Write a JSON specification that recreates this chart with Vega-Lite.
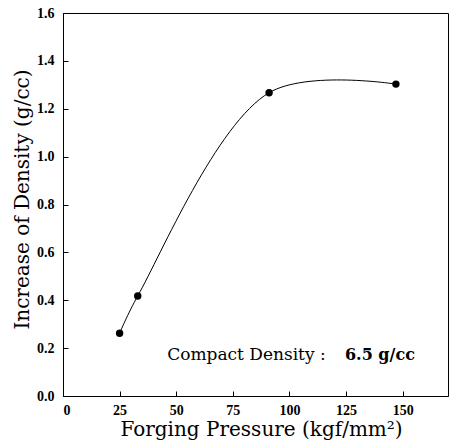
{
  "$schema": "https://vega.github.io/schema/vega-lite/v6.json",
  "width": 385,
  "height": 383,
  "autosize": "none",
  "padding": {"left": 63, "top": 13, "right": 3, "bottom": 48},
  "background": "white",
  "config": {
    "view": {"stroke": "black", "strokeWidth": 1},
    "axis": {
      "domainColor": "black",
      "tickColor": "black",
      "labelColor": "black",
      "titleColor": "black",
      "grid": false,
      "labelFont": "Liberation Serif",
      "labelFontWeight": "bold",
      "labelFontSize": 14,
      "titleFont": "DejaVu Serif",
      "titleFontWeight": "normal",
      "titleFontSize": 20
    }
  },
  "datasets": {
    "density": [
      {"pressure": 25, "increase": 0.262},
      {"pressure": 33, "increase": 0.418},
      {"pressure": 91, "increase": 1.267},
      {"pressure": 147, "increase": 1.303}
    ],
    "noteText": [
      {"pressure": 46, "increase": 0.17, "label": "Compact Density :"}
    ],
    "noteValue": [
      {"pressure": 124.5, "increase": 0.17, "label": "6.5 g/cc"}
    ]
  },
  "encoding": {
    "x": {
      "field": "pressure",
      "type": "quantitative",
      "scale": {"domain": [0, 170], "nice": false, "zero": true},
      "axis": {
        "values": [0, 25, 50, 75, 100, 125, 150],
        "tickSize": -5,
        "labelPadding": 12,
        "title": "Forging Pressure (kgf/mm²)",
        "titleX": 198,
        "titlePadding": 2
      }
    },
    "y": {
      "field": "increase",
      "type": "quantitative",
      "scale": {"domain": [0, 1.6], "nice": false},
      "axis": {
        "values": [0, 0.2, 0.4, 0.6, 0.8, 1.0, 1.2, 1.4, 1.6],
        "format": ".1f",
        "tickSize": -5,
        "labelPadding": 14,
        "title": "Increase of Density (g/cc)",
        "titleY": 186,
        "titlePadding": 4
      }
    }
  },
  "layer": [
    {
      "data": {"name": "density"},
      "mark": {"type": "line", "interpolate": "catmull-rom", "color": "black", "strokeWidth": 1}
    },
    {
      "data": {"name": "density"},
      "mark": {"type": "point", "filled": true, "color": "black", "opacity": 1, "size": 55}
    },
    {
      "data": {"name": "noteText"},
      "mark": {"type": "text", "align": "left", "baseline": "middle", "font": "DejaVu Serif", "fontSize": 17, "color": "black"},
      "encoding": {"text": {"field": "label"}}
    },
    {
      "data": {"name": "noteValue"},
      "mark": {"type": "text", "align": "left", "baseline": "middle", "font": "DejaVu Serif", "fontSize": 16, "fontWeight": "bold", "color": "black"},
      "encoding": {"text": {"field": "label"}}
    }
  ]
}
